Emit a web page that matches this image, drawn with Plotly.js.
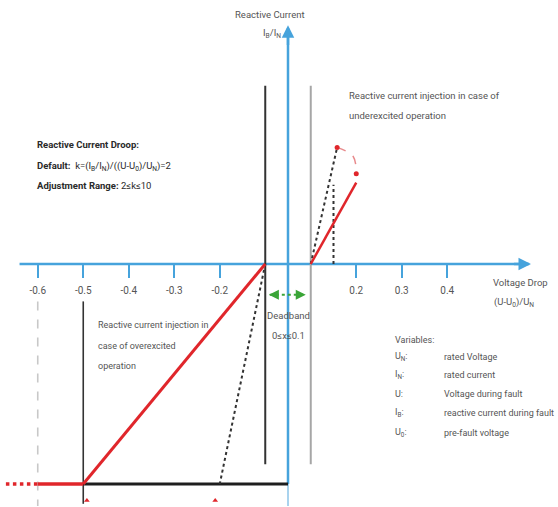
<!DOCTYPE html>
<html><head><meta charset="utf-8">
<script src="https://cdn.plot.ly/plotly-3.0.1.min.js"></script>
<style>html,body{margin:0;padding:0;background:#fff}#chart{width:558px;height:507px}</style>
</head><body><div id="chart"></div>
<script>
// schematic coordinates: u (horizontal, 1 unit = one 0.1 step), v (I_B/I_N, floor = -1)
const tickPos  = [-5.5, -4.5, -3.5, -2.5, -1.5, 1.5, 2.5, 3.5];
const tickText = ["-0.6", "-0.5", "-0.4", "-0.3", "-0.2", "0.2", "0.3", "0.4"];

const overDroopX = [-0.5, -4.5], overDroopY = [0, -1];
const overFloorRedX = [-5.5, -4.5], overFloorRedY = [-1, -1];
const overFloorDotX = [-6.2, -5.5], overFloorDotY = [-1, -1];
const overSteepX = [-0.5, -1.5], overSteepY = [0, -1];
const floorBlackX = [-4.5, 0], floorBlackY = [-1, -1];

const underDroopX = [0.5, 1.5], underDroopY = [0, 0.37];
const underSteepX = [0.5, 1.08], underSteepY = [0, 0.53];
const underVertX = [1.0, 1.0], underVertY = [0, 0.36];
const arcX = [1.08, 1.43, 1.5], arcY = [0.53, 0.49, 0.41];

const bandLeftX = [-0.5, -0.5], bandRightX = [0.5, 0.5], bandY = [-0.91, 0.81];
const limit05X = [-4.5, -4.5], limit05Y = [-0.17, -1.09];
const limit06X = [-5.5, -5.5], limit06Y = [-0.17, -1.1];
const markX = [-4.42, -1.6], markY = [-1.075, -1.075];

const axisXspan = [-5.9, 5.3];
const axisYspanTop = [-1, 1.07];
const axisYspanLow = [-1.1, -1];
const deadbandX = [-0.4, 0.37], deadbandY = [-0.14, -0.14];

const varSym = ["U<sub>N</sub>:", "I<sub>N</sub>:", "U:", "I<sub>B</sub>:", "U<sub>0</sub>:"];
const varDesc = ["rated Voltage", "rated current", "Voltage during fault", "reactive current during fault", "pre-fault voltage"];
const varY = [-0.423, -0.505, -0.591, -0.677, -0.768];

const RED = '#e0262b', BLACK = '#1e1e1e', GRAY = '#a6a6a6', BLUE = '#46a3dc', GREEN = '#3aa537', TXT = '#555555';
const FONT = 'Roboto, Liberation Sans, sans-serif';
const FS = 9.5;

function line(x, y, color, width, dash, shape) {
  return {x: x, y: y, mode: 'lines', type: 'scatter', hoverinfo: 'skip',
    line: {color: color, width: width, dash: dash || 'solid', shape: shape || 'linear'}};
}

const traces = [
  line(axisXspan, [0, 0], BLUE, 2.5),
  line([0, 0], axisYspanTop, BLUE, 2.5),
  line([0, 0], axisYspanLow, '#a9d3ee', 2),
  line(bandLeftX, bandY, '#333', 2),
  line(bandRightX, bandY, GRAY, 2),
  line(limit05X, limit05Y, '#333', 1.6),
  line(limit06X, limit06Y, '#c8c8c8', 1.6, 'dash'),
  line(floorBlackX, floorBlackY, BLACK, 3),
  line(overSteepX, overSteepY, '#333', 2, 'dot'),
  line(overDroopX, overDroopY, RED, 3),
  line(overFloorRedX, overFloorRedY, RED, 3.5),
  line(overFloorDotX, overFloorDotY, RED, 3.5, 'dot'),
  line(underSteepX, underSteepY, '#333', 2, 'dot'),
  line(underVertX, underVertY, '#333', 2, 'dot'),
  line(underDroopX, underDroopY, RED, 2.5),
  line(arcX, arcY, '#e88a8c', 1.5, 'dash', 'spline'),
  {x: [arcX[0], arcX[2]], y: [arcY[0], arcY[2]], mode: 'markers', type: 'scatter', hoverinfo: 'skip',
   marker: {color: RED, size: 5, symbol: 'circle'}},
  {x: markX, y: markY, mode: 'markers', type: 'scatter', hoverinfo: 'skip',
   marker: {color: RED, size: 5, symbol: 'triangle-up'}},
  line(deadbandX, deadbandY, GREEN, 2, 'dot')
];

function txt(x, y, text, opts) {
  return Object.assign({x: x, y: y, xref: 'x', yref: 'y', text: text, showarrow: false,
    xanchor: 'left', yanchor: 'middle', align: 'left',
    font: {family: FONT, size: FS, color: TXT}}, opts || {});
}
function arrow(x, y, ax, ay, color, w) {
  return {x: x, y: y, ax: ax, ay: ay, xref: 'x', yref: 'y', axref: 'x', ayref: 'y', text: ' ',
    showarrow: true, arrowhead: 2, arrowsize: 1, arrowwidth: w, arrowcolor: color, standoff: 0};
}
const dark = {family: FONT, size: FS, color: '#2a2a2a'};
const small = {family: FONT, size: 9, color: TXT};

const annotations = [
  arrow(5.34, 0, 4.9, 0, BLUE, 2.5),
  arrow(0, 1.085, 0, 0.95, BLUE, 2.5),
  arrow(-0.42, deadbandY[0], -0.2, deadbandY[0], GREEN, 2),
  arrow(0.39, deadbandY[0], 0.17, deadbandY[0], GREEN, 2),
  txt(-0.4, 1.132, 'Reactive Current', {xanchor: 'center', align: 'center'}),
  txt(-0.35, 1.05, 'I<sub>B</sub>/I<sub>N</sub>', {xanchor: 'center', align: 'center'}),
  txt(1.3, 0.768, 'Reactive current injection in case of'),
  txt(1.3, 0.673, 'underexcited operation'),
  txt(-5.56, 0.541, '<b>Reactive Current Droop:</b>', {font: dark}),
  txt(-5.56, 0.445, '<b>Default:</b>  k=(I<sub>B</sub>/I<sub>N</sub>)/((U-U<sub>0</sub>)/U<sub>N</sub>)=2', {font: dark}),
  txt(-5.56, 0.359, '<b>Adjustment Range:</b> 2≤k≤10', {font: dark}),
  txt(-4.22, -0.277, 'Reactive current injection in', {font: small}),
  txt(-4.22, -0.373, 'case of overexcited', {font: small}),
  txt(-4.22, -0.464, 'operation', {font: small}),
  txt(0, -0.232, 'Deadband', {xanchor: 'center', align: 'center'}),
  txt(0, -0.323, '0≤x≤0.1', {xanchor: 'center', align: 'center'}),
  txt(4.46, -0.082, 'Voltage Drop'),
  txt(4.48, -0.173, '(U-U<sub>0</sub>)/U<sub>N</sub>'),
  txt(2.31, -0.345, 'Variables:', {font: small})
];
for (let i = 0; i < varSym.length; i++) {
  annotations.push(txt(2.31, varY[i], varSym[i], {font: small}));
  annotations.push(txt(3.38, varY[i], varDesc[i], {font: small}));
}

const layout = {
  width: 558, height: 507,
  margin: {l: 0, r: 0, t: 0, b: 0, pad: 0},
  paper_bgcolor: '#fff', plot_bgcolor: '#fff',
  showlegend: false,
  xaxis: {range: [-288 / 45.5, 270 / 45.5], showgrid: false, zeroline: false, showline: false,
    anchor: 'free', position: 1 - 264 / 507,
    tickmode: 'array', tickvals: tickPos, ticktext: tickText,
    ticks: 'outside', ticklen: 13, tickwidth: 2, tickcolor: BLUE, ticklabelstandoff: 4,
    tickfont: {family: FONT, size: 10, color: TXT}, fixedrange: true},
  yaxis: {range: [-243 / 220, 264 / 220], visible: false, showgrid: false, zeroline: false, fixedrange: true},
  annotations: annotations
};

Plotly.newPlot('chart', traces, layout, {displayModeBar: false, staticPlot: true});
</script>
</body></html>
